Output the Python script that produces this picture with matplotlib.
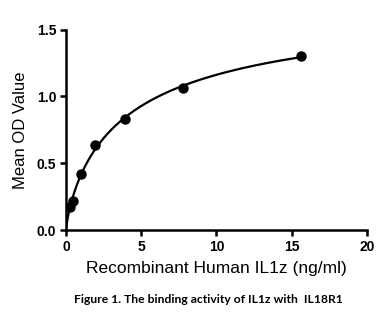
import numpy as np
import matplotlib
matplotlib.use("Agg")
import matplotlib.pyplot as plt

conc = [0.244, 0.49, 0.98, 1.95, 3.9, 7.8, 15.6]
od = [0.17, 0.22, 0.42, 0.64, 0.83, 1.063, 1.305]
xticks = [0, 5, 10, 15, 20]
yticks = [0.0, 0.5, 1.0, 1.5]

x = np.array(conc); y = np.array(od)
# Hill fit via grid search (Bmax solved linearly)
best = None
for kd in np.linspace(0.5, 40, 400):
    for h in np.linspace(0.3, 1.5, 121):
        f = x**h / (kd**h + x**h)
        b = (f @ y) / (f @ f)
        err = np.sum((b * f - y) ** 2)
        if best is None or err < best[0]:
            best = (err, kd, h, b)
_, kd, h, bmax = best
xs = np.linspace(0, max(conc), 400)
ys = bmax * xs**h / (kd**h + xs**h)

fig = plt.figure(figsize=(3.91, 3.15), dpi=100)
ax = fig.add_axes([0.1688, 0.2698, 0.7698, 0.6359])
ax.plot(xs, ys, color="black", lw=1.6)
ax.plot(conc, od, "o", color="black", ms=6.5)
ax.set_xlim(0, 20)
ax.set_ylim(0, 1.5)
ax.set_xticks(xticks)
ax.set_yticks(yticks)
ax.set_xticklabels([str(t) for t in xticks])
ax.set_yticklabels([f"{t:.1f}" for t in yticks])
for s in ["top", "right"]:
    ax.spines[s].set_visible(False)
for s in ["left", "bottom"]:
    ax.spines[s].set_linewidth(1.8)
ax.tick_params(direction="out", length=4.5, width=1.8, labelsize=10, pad=2.5)
for lab in ax.get_xticklabels() + ax.get_yticklabels():
    lab.set_fontfamily("Liberation Sans")
    lab.set_fontweight("bold")
ax.set_xlabel("Recombinant Human IL1z (ng/ml)", fontsize=12.5, family="Liberation Sans", labelpad=5)
ax.set_ylabel("Mean OD Value", fontsize=12, family="Liberation Sans", labelpad=6)
fig.text(0.533, 0.048, "Figure 1. The binding activity of IL1z with  IL18R1", ha="center", va="center",
         fontsize=8.7, fontweight="bold", family="Lato")
fig.savefig("out.png", dpi=100)
